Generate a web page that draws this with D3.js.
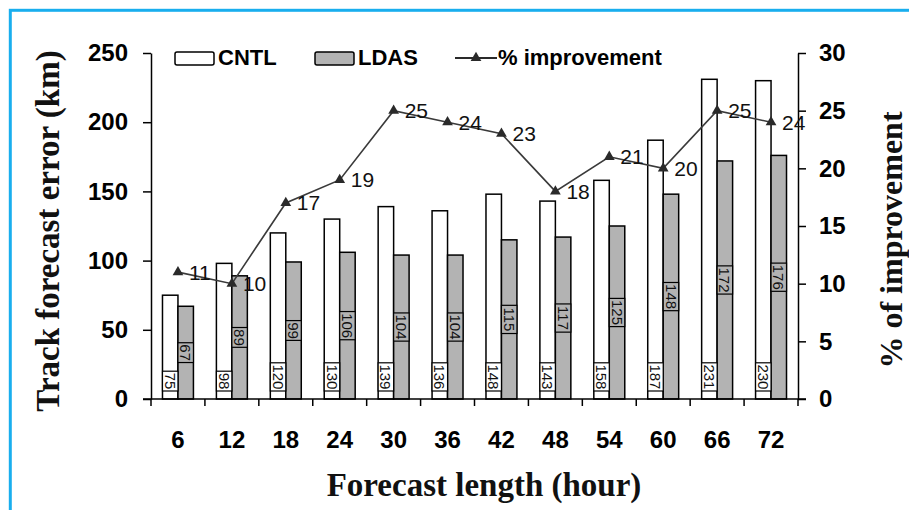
<!DOCTYPE html>
<html>
<head>
<meta charset="utf-8">
<script src="https://cdn.jsdelivr.net/npm/d3@7/dist/d3.min.js"></script>
<style>
  html, body { margin: 0; padding: 0; background: #fff; }
  svg { display: block; }
</style>
</head>
<body>
<svg id="chart" width="909" height="510"></svg>
<script>
// Forecast lengths (hours)
const categories = ["6", "12", "18", "24", "30", "36", "42", "48", "54", "60", "66", "72"];
// Track forecast error (km)
const cntl = [75, 98, 120, 130, 139, 136, 148, 143, 158, 187, 231, 230];
const ldas = [67, 89, 99, 106, 104, 104, 115, 117, 125, 148, 172, 176];
// Percentage improvement of LDAS over CNTL
const improvement = [11, 10, 17, 19, 25, 24, 23, 18, 21, 20, 25, 24];
// Axis ticks
const leftTicks = [0, 50, 100, 150, 200, 250];
const rightTicks = [0, 5, 10, 15, 20, 25, 30];
const seriesNames = ["CNTL", "LDAS", "% improvement"];

const SANS = "'Liberation Sans', Arial, sans-serif";
const SERIF = "'Liberation Serif', 'Times New Roman', serif";

const svg = d3.select("#chart");

// frame
svg.append("rect")
  .attr("x", 10.3).attr("y", 10.3)
  .attr("width", 920).attr("height", 520)
  .attr("fill", "none")
  .attr("stroke", "#19aeee")
  .attr("stroke-width", 3);

const plot = { left: 151, right: 798, top: 53, bottom: 399 };

const x = d3.scaleBand()
  .domain(categories)
  .range([plot.left, plot.right])
  .paddingInner(0.426)
  .paddingOuter(0.213);

const xs = d3.scaleBand()
  .domain(["CNTL", "LDAS"])
  .range([0, x.bandwidth()]);

const y = d3.scaleLinear().domain([0, 250]).range([plot.bottom, plot.top]);
const y2 = d3.scaleLinear().domain([0, 30]).range([plot.bottom, plot.top]);

// bars
const groups = svg.append("g").selectAll("g")
  .data(categories)
  .join("g")
  .attr("transform", d => `translate(${x(d)},0)`);

const barData = (c, i) => [
  { key: "CNTL", v: cntl[i], fill: "#ffffff" },
  { key: "LDAS", v: ldas[i], fill: "#b3b3b3" }
];

groups.each(function (c, i) {
  const g = d3.select(this);
  const bars = barData(c, i);
  g.selectAll("rect.bar")
    .data(bars)
    .join("rect")
    .attr("class", "bar")
    .attr("x", d => xs(d.key))
    .attr("width", xs.bandwidth())
    .attr("y", d => y(d.v))
    .attr("height", d => y(0) - y(d.v))
    .attr("fill", d => d.fill)
    .attr("stroke", "#000")
    .attr("stroke-width", 1.5);

  // value labels, rotated, with an outlined box
  bars.forEach(d => {
    const len = String(d.v).length * 8.4 + 3;
    const cx = xs(d.key) + xs.bandwidth() / 2;
    const cy = d.key === "CNTL" ? y(0) - 8 - len / 2 : (y(d.v) + y(0)) / 2;
    g.append("rect")
      .attr("x", xs(d.key))
      .attr("width", xs.bandwidth())
      .attr("y", cy - len / 2)
      .attr("height", len)
      .attr("fill", d.fill)
      .attr("stroke", "#000")
      .attr("stroke-width", 1.2);
    g.append("text")
      .attr("transform", `translate(${cx},${cy}) rotate(90)`)
      .attr("text-anchor", "middle")
      .attr("dy", "0.36em")
      .attr("font-family", SANS)
      .attr("font-size", 15)
      .attr("fill", "#111")
      .text(d.v);
  });
});

// axes
const axisStyle = g => {
  g.selectAll("path, line").attr("stroke", "#000").attr("stroke-width", 1.5);
  g.selectAll("text")
    .attr("font-family", SANS)
    .attr("font-size", 24)
    .attr("font-weight", "bold")
    .attr("fill", "#000");
};

svg.append("g")
  .attr("transform", `translate(${plot.left},0)`)
  .call(d3.axisLeft(y).tickValues(leftTicks).tickSize(8).tickSizeOuter(0).tickPadding(15))
  .call(axisStyle);

svg.append("g")
  .attr("transform", `translate(${plot.right},0)`)
  .call(d3.axisRight(y2).tickValues(rightTicks).tickSize(8).tickSizeOuter(0).tickPadding(13))
  .call(axisStyle);

const xAxis = svg.append("g")
  .attr("transform", `translate(0,${plot.bottom})`)
  .call(d3.axisBottom(x).tickSize(0).tickPadding(32))
  .call(axisStyle);
xAxis.select(".domain").remove();
xAxis.append("line")
  .attr("x1", plot.left - 8).attr("x2", plot.right + 8)
  .attr("stroke", "#000").attr("stroke-width", 1.5);
// category separators
const step = x.step();
const bounds = categories.map(c => x(c) + x.bandwidth() / 2 - step / 2)
  .concat([x(categories[categories.length - 1]) + x.bandwidth() / 2 + step / 2]);
xAxis.selectAll("line.sep")
  .data(bounds)
  .join("line")
  .attr("class", "sep")
  .attr("x1", d => d).attr("x2", d => d)
  .attr("y1", 0).attr("y2", 7)
  .attr("stroke", "#000").attr("stroke-width", 1.5);

// improvement line
const cx = c => x(c) + x.bandwidth() / 2;
const pts = categories.map((c, i) => [cx(c), y2(improvement[i])]);
svg.append("path")
  .attr("d", d3.line()(pts))
  .attr("fill", "none")
  .attr("stroke", "#3a3a3a")
  .attr("stroke-width", 1.6);

const tri = d3.symbol().type(d3.symbolTriangle).size(50);
svg.append("g").selectAll("path")
  .data(pts)
  .join("path")
  .attr("d", tri)
  .attr("transform", d => `translate(${d[0]},${d[1]})`)
  .attr("fill", "#2a2a2a");

svg.append("g").selectAll("text")
  .data(categories)
  .join("text")
  .attr("x", (c) => cx(c) + 11)
  .attr("y", (c, i) => y2(improvement[i]))
  .attr("dy", "0.36em")
  .attr("font-family", SANS)
  .attr("font-size", 21)
  .attr("fill", "#111")
  .text((c, i) => improvement[i]);

// axis titles
svg.append("text")
  .attr("transform", `translate(47,231) rotate(-90)`)
  .attr("text-anchor", "middle")
  .attr("dy", "0.35em")
  .attr("font-family", SERIF)
  .attr("font-weight", "bold")
  .attr("font-size", 33)
  .attr("fill", "#111")
  .text("Track forecast error (km)");

svg.append("text")
  .attr("transform", `translate(891,240) rotate(-90)`)
  .attr("text-anchor", "middle")
  .attr("dy", "0.33em")
  .attr("font-family", SERIF)
  .attr("font-weight", "bold")
  .attr("font-size", 32)
  .attr("fill", "#111")
  .text("% of improvement");

svg.append("text")
  .attr("x", 484).attr("y", 484)
  .attr("text-anchor", "middle")
  .attr("dy", "0.35em")
  .attr("font-family", SERIF)
  .attr("font-weight", "bold")
  .attr("font-size", 33)
  .attr("fill", "#111")
  .text("Forecast length (hour)");

// legend
const legend = svg.append("g");
const legItems = [
  { name: seriesNames[0], x: 175, type: "box", fill: "#ffffff" },
  { name: seriesNames[1], x: 315, type: "box", fill: "#b3b3b3" },
  { name: seriesNames[2], x: 455, type: "line" }
];
legItems.forEach(it => {
  if (it.type === "box") {
    legend.append("rect")
      .attr("x", it.x).attr("y", 52)
      .attr("width", 39).attr("height", 13)
      .attr("rx", 2)
      .attr("fill", it.fill)
      .attr("stroke", "#000").attr("stroke-width", 1.5);
  } else {
    legend.append("line")
      .attr("x1", it.x).attr("x2", it.x + 42)
      .attr("y1", 58).attr("y2", 58)
      .attr("stroke", "#2a2a2a").attr("stroke-width", 2);
    legend.append("path")
      .attr("d", tri)
      .attr("transform", `translate(${it.x + 21},58)`)
      .attr("fill", "#2a2a2a");
  }
  legend.append("text")
    .attr("x", it.x + 43)
    .attr("y", 65)
    .attr("font-family", SANS)
    .attr("font-size", 22)
    .attr("font-weight", "bold")
    .attr("fill", "#000")
    .text(it.name);
});
</script>
</body>
</html>
